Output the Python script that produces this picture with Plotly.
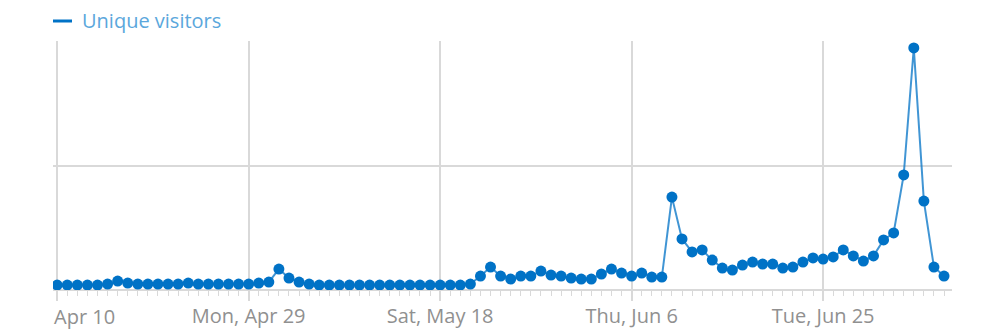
import pandas as pd
import plotly.graph_objects as go

# ---- data ----
dates = pd.date_range("2024-04-10", "2024-07-07", freq="D")
visitors = [
    # Apr 10 - Apr 30
    20, 20, 20, 20, 20, 24, 36, 28, 24, 24, 24, 24, 24, 28, 24, 24, 24, 24, 24, 24, 28,
    # May 1 - May 31
    32, 84, 48, 32, 24, 20, 20, 20, 20, 20, 20, 20, 20, 20, 20, 20, 20, 20, 20, 20,
    24, 56, 92, 56, 44, 56, 56, 76, 60, 56, 48,
    # Jun 1 - Jun 30
    44, 44, 64, 84, 68, 56, 68, 52, 52, 373, 205, 153, 161, 120, 88, 80, 100, 112,
    104, 104, 88, 92, 112, 129, 124, 133, 161, 137, 116, 137,
    # Jul 1 - Jul 7
    201, 229, 462, 972, 357, 92, 56,
]
series_name = "Unique visitors"
tick_dates = ["2024-04-10", "2024-04-29", "2024-05-18", "2024-06-06", "2024-06-25"]
tick_labels = ["", "Mon, Apr 29", "Sat, May 18", "Thu, Jun 6", "Tue, Jun 25"]
first_label = "Apr 10"

BLUE = "#0072C6"
GRID = "#d9d9d9"
LABEL = "#909090"
FONT = "Open Sans"
FS = 20

fig = go.Figure()
fig.add_trace(go.Scatter(
    x=dates, y=visitors, mode="lines+markers",
    line=dict(color="rgba(0,114,198,0.75)", width=2),
    marker=dict(color=BLUE, size=11),
    showlegend=False, name=series_name,
))

fig.update_layout(
    width=990, height=330,
    margin=dict(l=53, r=38, t=41, b=40, autoexpand=False),
    paper_bgcolor="white", plot_bgcolor="white",
    font=dict(family=FONT, size=FS, color=LABEL),
    showlegend=False,
)
fig.update_xaxes(
    type="date",
    range=["2024-04-09 14:00", "2024-07-07 19:00"],
    tickmode="array", tickvals=tick_dates, ticktext=tick_labels,
    ticks="outside", ticklen=10, tickwidth=1.5, tickcolor=GRID,
    showgrid=True, gridcolor=GRID, gridwidth=1.5,
    showline=False, zeroline=False,
    tickfont=dict(family=FONT, size=FS, color=LABEL),
    ticklabelstandoff=-2,
    minor=dict(dtick=86400000, tick0="2024-04-10", ticks="outside", ticklen=5,
               tickwidth=1, tickcolor=GRID, showgrid=False),
)
fig.update_yaxes(
    range=[0, 1000], dtick=500, showticklabels=False,
    showgrid=True, gridcolor=GRID, gridwidth=1.5,
    zeroline=True, zerolinecolor=GRID, zerolinewidth=1.5,
    fixedrange=True,
)
# first date label, left-aligned at its tick
fig.add_annotation(
    x=tick_dates[0], y=0, xref="x", yref="paper",
    xanchor="left", yanchor="top", yshift=-11, xshift=-5,
    text=first_label, showarrow=False,
    font=dict(family=FONT, size=FS, color=LABEL),
)
# legend key (line) and label
fig.add_shape(type="line", xref="paper", yref="paper",
              x0=0, x1=19 / 899, y0=(290 - 21) / 249, y1=(290 - 21) / 249,
              line=dict(color=BLUE, width=3))
fig.add_annotation(
    x=30 / 899, y=(290 - 21) / 249, xref="paper", yref="paper",
    xanchor="left", yanchor="middle", text=series_name, showarrow=False,
    xshift=-3,
    font=dict(family=FONT, size=FS, color="#5ba7dc"),
)

fig.write_html("out.html")
